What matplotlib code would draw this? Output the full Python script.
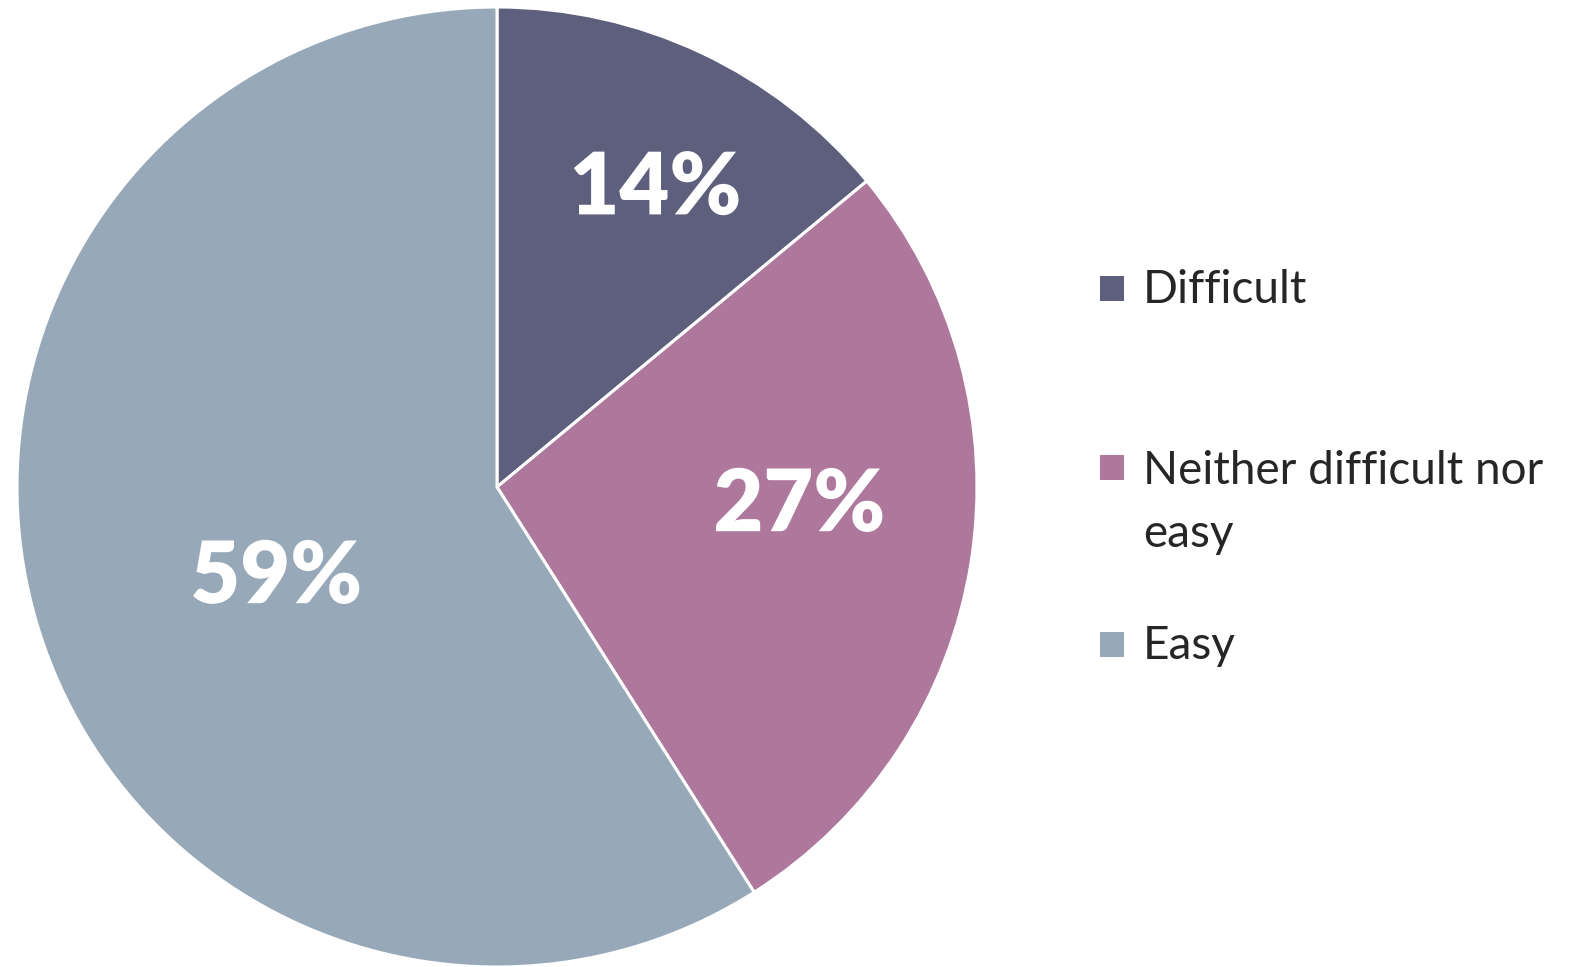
import matplotlib.pyplot as plt
import matplotlib.patheffects as pe
from matplotlib.patches import Rectangle

categories = ["Difficult", "Neither difficult nor\neasy", "Easy"]
shares = [14, 27, 59]
colors = ["#5D5F7D", "#AE789D", "#97A9B9"]

# label spots inside the wedges (axes data coords, pie radius = 1)
label_xy = [(0.33, 0.62), (0.63, -0.04), (-0.46, -0.19)]

plt.rcParams["font.family"] = ["Lato", "DejaVu Sans"]

W, H = 1582, 967
fig = plt.figure(figsize=(W / 100, H / 100), dpi=100)
cx, cy, r = 497, 487, 480
ax = fig.add_axes([(cx - r) / W, (H - cy - r) / H, 2 * r / W, 2 * r / H])

wedges, _ = ax.pie(shares, colors=colors, startangle=90, counterclock=False,
                   radius=1, wedgeprops=dict(edgecolor="white", linewidth=2.2))
ax.set_xlim(-1, 1)
ax.set_ylim(-1, 1)
ax.set_aspect("equal")
ax.axis("off")

for v, (x, y) in zip(shares, label_xy):
    t = ax.text(x, y, f"{v}%", ha="center", va="center", color="white",
                fontsize=62, fontweight="heavy")
    t.set_path_effects([pe.SimpleLineShadow(offset=(1.5, -1.5), alpha=0.3),
                        pe.Normal()])

# legend on the right, drawn by hand so entries sit like the original
baselines = [303, 482, 659]   # first-line baseline of each entry, px from top
line_step = 65
for cat, col, base in zip(categories, colors, baselines):
    fig.patches.append(Rectangle((1100 / W, 1 - (base - 2) / H), 24 / W, 25 / H,
                                 transform=fig.transFigure, facecolor=col,
                                 edgecolor="none"))
    n_lines = cat.count("\n")
    last_base = base + line_step * n_lines
    fig.text(1143 / W, 1 - last_base / H, cat, ha="left", va="baseline",
             fontsize=33, color="#262626", linespacing=1.62)

fig.savefig("out.png", dpi=100)
